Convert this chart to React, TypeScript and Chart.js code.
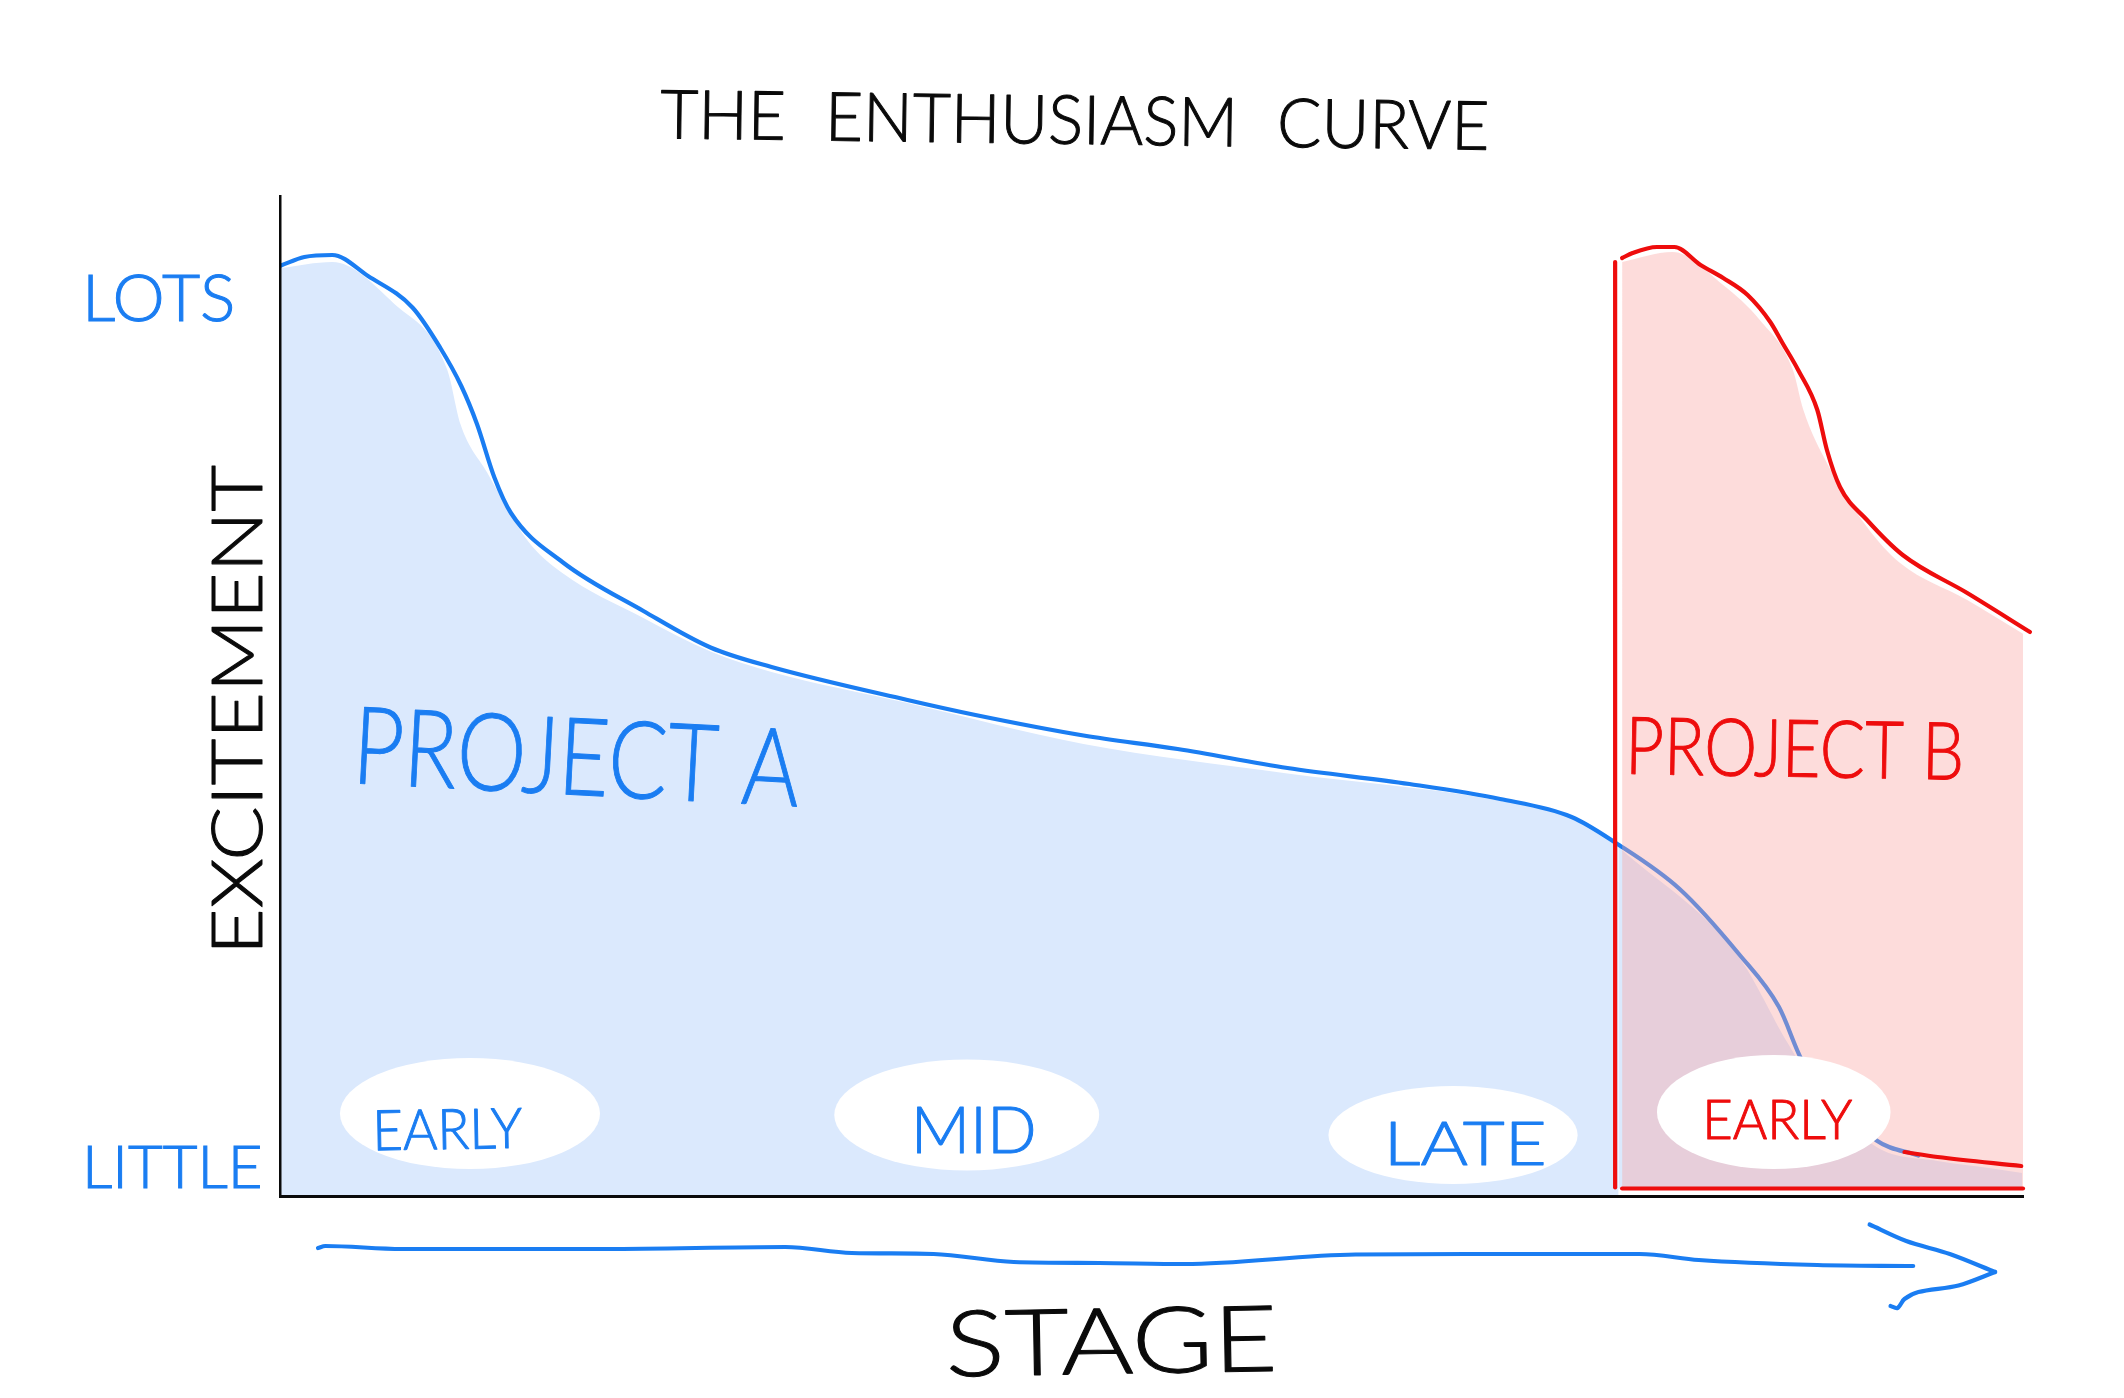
import React, { useEffect, useRef } from "react";
import { Chart, registerables } from "chart.js";

Chart.register(...registerables);

// ---- data (stage 0-100, excitement 0-100) ----
const projectAStage = [0.06, 1.4, 3.0, 5.05, 7.6, 9.2, 10.4, 11.3, 12.3, 13.25, 16.2, 20.85, 24.7, 28.2, 36.0, 39.9, 46.1, 51.5, 57.8, 64.8, 70.0, 74.1, 76.6, 80.3, 83.7, 86.0, 87.4, 91.6, 94.0];
const projectAExcitement = [93.05, 93.9, 94.1, 92.0, 88.85, 84.8, 81.0, 77.2, 71.85, 68.3, 63.4, 58.5, 54.85, 52.9, 49.6, 48.1, 46.05, 44.7, 42.8, 41.2, 39.7, 37.9, 35.35, 30.7, 24.2, 18.9, 13.3, 5.55, 4.05];

const areaALeftStage = [0.06, 3.0, 6.5, 9.6, 10.35, 11.9, 14.2, 16.2, 20.85, 24.7, 28.2, 36, 46.1, 57.8, 69.4, 74.9, 76.8];
const areaALeftExcitement = [92.8, 93.4, 89.3, 82.6, 77.2, 72.3, 65.55, 62.3, 57.8, 54.45, 52.4, 49.3, 45.2, 42.25, 39.7, 37.4, 34.9];
const areaARightStage = [76.8, 83.65, 86.5, 88, 91.6, 95.1, 98.05, 99.95];
const areaARightExcitement = [34.9, 24, 15.3, 11.2, 4.9, 3.5, 2.8, 2.3];

const projectBStage = [77.0, 77.6, 79.0, 80.0, 81.5, 82.8, 84.2, 85.5, 86.2, 87.1, 88.2, 88.75, 89.5, 91.05, 93.1, 96.8, 100.4];
const projectBExcitement = [93.8, 94.3, 94.9, 94.9, 93.1, 91.8, 90.1, 87.4, 85.3, 82.6, 78.6, 74.6, 70.9, 67.6, 64.1, 60.3, 56.4];
const areaBStage = [77, 79.9, 82.8, 84.9, 86.8, 87.4, 88.75, 91.05, 92.95, 96.8, 100.3];
const areaBExcitement = [93.4, 94.4, 91.1, 87.6, 82.6, 78.6, 73.3, 66.9, 63.3, 59.6, 55.9];

const startBStage = [76.6, 76.6];
const startBExcitement = [93.4, 0.85];
const baseBStage = [77, 100];
const baseBExcitement = [0.75, 0.75];
const tailBStage = [93.2, 95.1, 99.9];
const tailBExcitement = [4.4, 3.9, 3.0];

const arrowShaftStage = [2.18, 2.6, 7.0, 18.7, 29, 32.8, 37.5, 42.1, 47, 51.9, 61.7, 70, 78, 81.4, 88.2, 93.7];
const arrowShaftLevel = [-5.2, -5.0, -5.3, -5.3, -5.1, -5.7, -5.8, -6.6, -6.7, -6.8, -5.85, -5.8, -5.8, -6.4, -6.9, -7.0];
const arrowUpperStage = [91.2, 93.3, 95.8, 98.4];
const arrowUpperLevel = [-2.85, -4.5, -5.8, -7.6];
const arrowLowerStage = [98.4, 96.3, 94, 93.2, 92.8, 92.4];
const arrowLowerLevel = [-7.6, -8.95, -9.6, -10.3, -11.2, -11.0];

const yTickValues = [89.6, 2.7];
const yTickLabels = ["LOTS", "LITTLE"];
const yTickSizes = [66, 60];

// ---- annotation layout ----
const BLUE = "#1a7df2";
const RED = "#ee0d0d";
const BLACK = "#0a0a0a";
const FAMILY = 'Lato, "Open Sans", sans-serif';

const bubbles = [
  { x: 10.9, y: 8.25, rx: 7.46, ry: 5.55 },
  { x: 39.4, y: 8.1, rx: 7.6, ry: 5.55 },
  { x: 67.3, y: 6.1, rx: 7.15, ry: 4.9 },
  { x: 85.7, y: 8.4, rx: 6.7, ry: 5.7 },
];

const texts = [
  { t: "THE ENTHUSIASM CURVE", x: 45.6, y: 107.4, w: 829, size: 68, color: BLACK, rot: 0.8, gap: 22 },
  { t: "EXCITEMENT", x: -2.3, y: 48.6, w: 490, size: 70, color: BLACK, rot: -90, gap: 0 },
  { t: "STAGE", x: 47.7, y: -14.8, w: 332, size: 92, color: BLACK, rot: -1, gap: 0 },
  { t: "PROJECT A", x: 17.0, y: 43.6, w: 447, size: 108, color: BLUE, rot: 3, gap: 0 },
  { t: "PROJECT B", x: 86.9, y: 44.5, w: 339, size: 80, color: RED, rot: 1, gap: 0 },
  { t: "EARLY", x: 9.6, y: 6.5, w: 150, size: 56, color: BLUE, rot: -1, gap: 0 },
  { t: "MID", x: 39.8, y: 6.4, w: 126, size: 66, color: BLUE, rot: 0, gap: 0 },
  { t: "LATE", x: 68, y: 5.1, w: 163, size: 62, color: BLUE, rot: 0, gap: 0 },
  { t: "EARLY", x: 85.9, y: 7.5, w: 150, size: 56, color: RED, rot: 0, gap: 0 },
];

const pair = (xs: number[], ys: number[]) => xs.map((x, i) => ({ x, y: ys[i] }));

const sketchPlugin = {
  id: "sketch",
  afterDatasetsDraw(chart: any) {
    const { ctx, scales } = chart;
    const sx = scales.x;
    const sy = scales.y;
    const unitX = sx.getPixelForValue(1) - sx.getPixelForValue(0);
    const unitY = sy.getPixelForValue(0) - sy.getPixelForValue(1);
    ctx.save();
    ctx.fillStyle = "#ffffff";
    bubbles.forEach((b) => {
      ctx.beginPath();
      ctx.ellipse(sx.getPixelForValue(b.x), sy.getPixelForValue(b.y), b.rx * unitX, b.ry * unitY, 0, 0, Math.PI * 2);
      ctx.fill();
    });
    ctx.textAlign = "center";
    ctx.textBaseline = "middle";
    texts.forEach((d) => {
      ctx.save();
      ctx.font = `300 ${d.size}px ${FAMILY}`;
      ctx.wordSpacing = `${d.gap}px`;
      ctx.fillStyle = d.color;
      ctx.strokeStyle = d.color;
      ctx.lineWidth = 1;
      ctx.lineJoin = "round";
      ctx.translate(sx.getPixelForValue(d.x), sy.getPixelForValue(d.y));
      ctx.rotate((d.rot * Math.PI) / 180);
      ctx.scale(d.w / ctx.measureText(d.t).width, 1);
      ctx.fillText(d.t, 0, 0);
      ctx.strokeText(d.t, 0, 0);
      ctx.restore();
    });
    ctx.restore();
  },
};

const stroke = (label: string, data: any[], color: string, order: number, mode = "monotone") => ({
  label,
  data,
  borderColor: color,
  borderWidth: 4.2,
  backgroundColor: "transparent",
  pointRadius: 0,
  fill: false,
  cubicInterpolationMode: mode,
  tension: 0.3,
  clip: false,
  order,
  borderCapStyle: "round",
  borderJoinStyle: "round",
});

const area = (label: string, data: any[], color: string, base: number, order: number) => ({
  label,
  data,
  borderWidth: 0,
  borderColor: "transparent",
  backgroundColor: color,
  pointRadius: 0,
  fill: { value: base },
  cubicInterpolationMode: "monotone",
  clip: false,
  order,
});

const AREA_A = "#dbe9fd";
const AREA_B = "rgba(250,165,162,0.39)";

export default function App() {
  const ref = useRef<HTMLCanvasElement>(null);
  useEffect(() => {
    document.body.style.margin = "0";
    const chart = new Chart(ref.current as HTMLCanvasElement, {
      type: "line",
      plugins: [sketchPlugin],
      data: {
        datasets: [
          area("Project A area", pair(areaALeftStage, areaALeftExcitement), AREA_A, 0, 20),
          area("Project A area (late)", pair(areaARightStage, areaARightExcitement), AREA_A, 0.75, 19),
          stroke("Project A", pair(projectAStage, projectAExcitement), BLUE, 18),
          area("Project B area", pair(areaBStage, areaBExcitement), AREA_B, 0.75, 17),
          stroke("Project B", pair(projectBStage, projectBExcitement), RED, 16),
          stroke("Project B start", pair(startBStage, startBExcitement), RED, 15, "default"),
          stroke("Project B base", pair(baseBStage, baseBExcitement), RED, 14),
          stroke("Project B tail", pair(tailBStage, tailBExcitement), RED, 13),
          stroke("Stage arrow", pair(arrowShaftStage, arrowShaftLevel), BLUE, 12),
          stroke("Stage arrow upper barb", pair(arrowUpperStage, arrowUpperLevel), BLUE, 11, "default"),
          stroke("Stage arrow lower barb", pair(arrowLowerStage, arrowLowerLevel), BLUE, 10, "default"),
        ] as any,
      },
      options: {
        responsive: false,
        animation: false,
        devicePixelRatio: 1,
        parsing: { xAxisKey: "x", yAxisKey: "y" } as any,
        layout: { padding: { left: 82, top: 196, right: 101, bottom: 202 } },
        plugins: { legend: { display: false }, tooltip: { enabled: false }, title: { display: false } },
        scales: {
          x: {
            type: "linear",
            min: 0,
            max: 100,
            grid: { display: false },
            ticks: { display: false },
            border: { display: true, color: BLACK, width: 3, z: 1 },
            afterFit: (s: any) => {
              s.height = 0;
            },
          },
          y: {
            type: "linear",
            min: 0,
            max: 100,
            grid: { display: false },
            border: { display: true, color: BLACK, width: 2.5, z: 1 },
            afterFit: (s: any) => {
              s.width = 198;
            },
            afterBuildTicks: (s: any) => {
              s.ticks = yTickValues.map((value) => ({ value }));
            },
            ticks: {
              autoSkip: false,
              crossAlign: "far",
              color: BLUE,
              textStrokeColor: BLUE,
              textStrokeWidth: 1,
              font: (c: any) => ({
                family: FAMILY,
                weight: "300",
                size: yTickSizes[yTickValues.indexOf(c.tick?.value)] ?? 60,
              }),
              callback: (v: any) => yTickLabels[yTickValues.indexOf(Number(v))] ?? "",
            },
          },
        },
      } as any,
    });
    return () => chart.destroy();
  }, []);
  return (
    <div style={{ position: "fixed", left: 0, top: 0, width: 2124, height: 1398, background: "#fff" }}>
      <canvas ref={ref} width={2124} height={1398} style={{ display: "block" }} />
    </div>
  );
}
